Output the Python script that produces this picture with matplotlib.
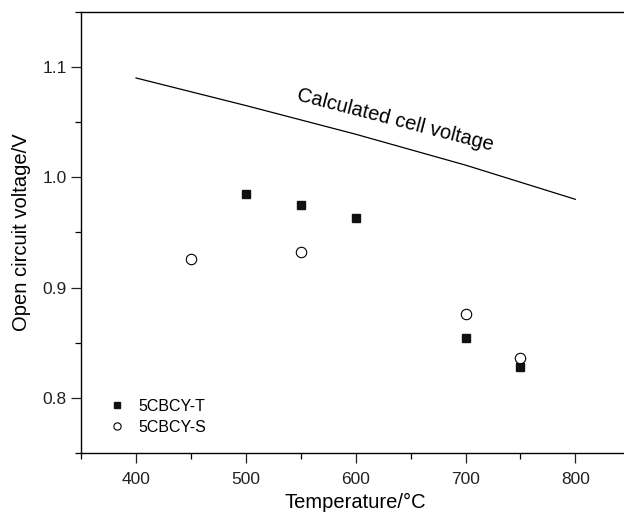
import matplotlib
matplotlib.use("Agg")
import matplotlib.pyplot as plt
from matplotlib.ticker import MultipleLocator

plt.rcParams['font.family'] = ['Liberation Sans', 'DejaVu Sans']

# data
temp_t = [500, 550, 600, 700, 750]
ocv_t = [0.985, 0.975, 0.963, 0.854, 0.828]

temp_s = [450, 550, 700, 750]
ocv_s = [0.926, 0.932, 0.876, 0.836]

temp_calc = [400, 500, 600, 700, 800]
ocv_calc = [1.090, 1.065, 1.039, 1.011, 0.980]

fig = plt.figure(figsize=(6.24, 5.13), dpi=100)
ax = fig.add_axes([0.130, 0.117, 0.88, 0.860])

ax.plot(temp_calc, ocv_calc, color='black', lw=0.9)
ax.plot(temp_t, ocv_t, ls='none', marker='s', ms=6.2, color='#111111', label='5CBCY-T')
ax.plot(temp_s, ocv_s, ls='none', marker='o', ms=7.5, mfc='white', mec='black', mew=0.8, label='5CBCY-S')

ax.text(636, 1.052, 'Calculated cell voltage', rotation=-14.5, fontsize=14.5,
        ha='center', va='center', rotation_mode='anchor')

ax.set_xlim(350, 850)
ax.set_ylim(0.75, 1.15)
ax.xaxis.set_major_locator(MultipleLocator(100))
ax.xaxis.set_minor_locator(MultipleLocator(50))
ax.yaxis.set_major_locator(MultipleLocator(0.1))
ax.yaxis.set_minor_locator(MultipleLocator(0.05))
ax.set_xticks([400, 500, 600, 700, 800])
ax.set_yticks([0.8, 0.9, 1.0, 1.1])
ax.tick_params(which='major', direction='out', length=7, width=0.9, labelsize=12.5, colors='#222222')
ax.tick_params(axis='x', which='major', pad=7)
ax.tick_params(which='minor', direction='out', length=4, width=0.9)

ax.spines['right'].set_visible(False)
for s in ['left', 'bottom', 'top']:
    ax.spines[s].set_linewidth(1.0)

ax.set_xlabel('Temperature/°C', fontsize=14.5, labelpad=4)
ax.set_ylabel('Open circuit voltage/V', fontsize=14.5, labelpad=8)

ax.legend(loc='lower left', bbox_to_anchor=(0.017, 0.008), frameon=False, fontsize=11.5,
          markerscale=0.7, handlelength=1.5, handletextpad=0.6, labelspacing=0.4)

fig.savefig('out.png', dpi=100)
